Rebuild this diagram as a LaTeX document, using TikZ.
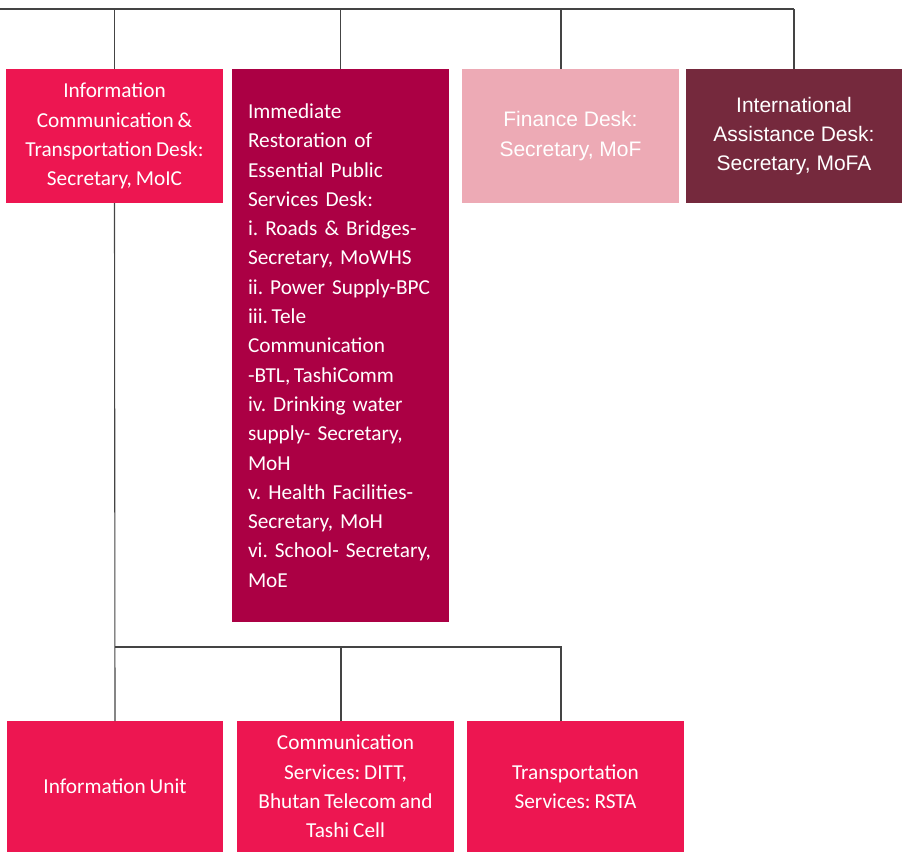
\documentclass[tikz,border=0pt]{standalone}
\usepackage{fontspec}
\setmainfont{Carlito}[WordSpace={0.8,0.5,0.5}]
\newfontfamily\arialf{Liberation Sans}
\definecolor{crimson}{HTML}{ED1651}
\definecolor{berry}{HTML}{AB0044}
\definecolor{rosepink}{HTML}{EDAAB5}
\definecolor{wine}{HTML}{75293D}
\definecolor{linegray}{HTML}{444444}
\tikzset{
  desk/.style={rectangle, inner sep=0pt, outer sep=0pt, text=white, anchor=north west,
    font=\frenchspacing\fontsize{21.3}{29.3}\selectfont, align=center},
  ariadesk/.style={desk, font=\arialf\fontsize{21}{29.3}\selectfont},
  conn/.style={draw=linegray, line width=1.1pt},
}
\begin{document}
\begin{tikzpicture}[x=1pt,y=-1pt]
\useasboundingbox (0,0) rectangle (902,852);
% top row
\node[desk, fill=crimson, minimum width=217pt, minimum height=134pt] (ict) at (6,69)
  {Information\\Communication \&\\Transportation Desk:\\Secretary, MoIC};
\node[desk, fill=berry, minimum width=217pt, minimum height=553pt, align=left, text width=185pt] (irs) at (232,69)
  {Immediate\\Restoration of\\Essential Public\\Services Desk:\\i. Roads \& Bridges-\\Secretary, MoWHS\\ii. Power Supply-BPC\\iii.\,Tele\\Communication\\-BTL,\,TashiComm\\iv. Drinking water\\supply- Secretary,\\MoH\\v. Health Facilities-\\Secretary, MoH\\vi. School- Secretary,\\MoE};
\node[ariadesk, fill=rosepink, minimum width=217pt, minimum height=134pt] (fin) at (462,69)
  {Finance Desk:\\Secretary, MoF};
\node[ariadesk, fill=wine, minimum width=216pt, minimum height=134pt] (ias) at (686,69)
  {International\\Assistance Desk:\\Secretary, MoFA};
% bottom row
\node[desk, fill=crimson, minimum width=216pt, minimum height=131pt] (iu) at (7,721)
  {Information Unit};
\node[desk, fill=crimson, minimum width=217pt, minimum height=131pt] (cs) at (237,721)
  {Communication\\Services: DITT,\\Bhutan Telecom and\\Tashi Cell};
\node[desk, fill=crimson, minimum width=217pt, minimum height=131pt] (ts) at (467,721)
  {Transportation\\Services: RSTA};
% connectors
\coordinate (tl) at (0,9);
\coordinate (tr) at (794,9);
\coordinate (finin) at (561,69);
\coordinate (hub) at (115,647);
\coordinate (csin) at (341,721);
\coordinate (tsin) at (561,721);
\draw[conn] (tl) -- (tr);
\draw[conn] (ict.north) -- (ict.north |- tl);
\draw[conn] (irs.north) -- (irs.north |- tl);
\draw[conn] (finin) -- (finin |- tl);
\draw[conn] (ias.north) -- (tr);
\draw[conn] (ict.south) -- (iu.north);
\draw[conn] (hub) -| (tsin);
\draw[conn] (csin) -- (csin |- hub);
\end{tikzpicture}
\end{document}
